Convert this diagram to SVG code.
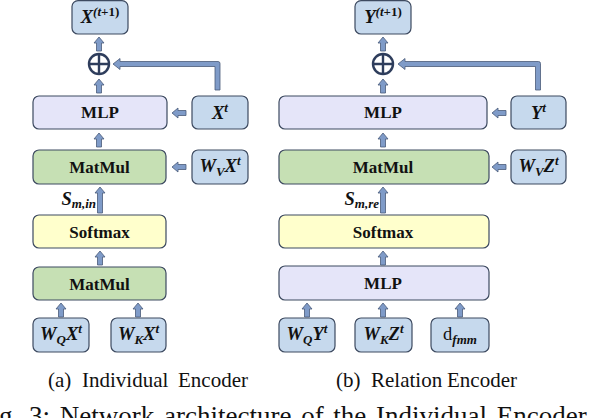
<svg xmlns="http://www.w3.org/2000/svg" width="598" height="418" viewBox="0 0 598 418">
<style>
.box{stroke:#3d4a60;stroke-width:1.2}
.blue{fill:#c6d9ed}
.lav{fill:#e5e5f9}
.grn{fill:#c6e0b4}
.yel{fill:#ffffcc}
.arr{fill:#7f9bc8;stroke:#4a5a78;stroke-width:0.8;stroke-linejoin:round}
.lbl{font-family:"Liberation Serif","Times New Roman",serif;font-weight:bold;font-size:17px;fill:#111}
.m{font-family:"Liberation Serif","Times New Roman",serif;font-weight:bold;font-style:italic;font-size:18.5px;fill:#111}
.s{font-size:13px}
.cap{font-family:"Liberation Serif","Times New Roman",serif;font-size:21px;fill:#111}
.big{font-size:27px}
.plus{fill:none;stroke:#2e3d5c;stroke-width:2.4}
</style>
<defs>
<path id="up" d="M0,0 L5,6 L2.5,6 L2.5,14 L-2.5,14 L-2.5,6 L-5,6 Z"/>
<path id="upL" d="M0,0 L5,6 L2.5,6 L2.5,26 L-2.5,26 L-2.5,6 L-5,6 Z"/>
<path id="left" d="M0,0 L6,-5 L6,-2.5 L14,-2.5 L14,2.5 L6,2.5 L6,5 Z"/>
</defs>

<g id="connectors">
<use href="#up" class="arr" x="99" y="37"/>
<use href="#up" class="arr" x="99" y="79"/>
<use href="#up" class="arr" x="99" y="133"/>
<use href="#upL" class="arr" x="100" y="187"/>
<use href="#up" class="arr" x="100" y="251"/>
<use href="#up" class="arr" x="61" y="303"/>
<use href="#up" class="arr" x="138" y="303"/>
<use href="#left" class="arr" x="172" y="113"/>
<use href="#left" class="arr" x="172" y="167"/>
<path class="arr" d="M215,90 L215,66.5 L120,66.5 L120,69.5 L113,64 L120,58.5 L120,61.5 L218,61.5 Q220,61.5 220,63.5 L220,90 Z"/>

<use href="#up" class="arr" x="383" y="37"/>
<use href="#up" class="arr" x="383" y="79"/>
<use href="#up" class="arr" x="383" y="133"/>
<use href="#upL" class="arr" x="383" y="187"/>
<use href="#up" class="arr" x="383" y="251"/>
<use href="#up" class="arr" x="307" y="303"/>
<use href="#up" class="arr" x="383" y="303"/>
<use href="#up" class="arr" x="460" y="303"/>
<use href="#left" class="arr" x="492" y="113"/>
<use href="#left" class="arr" x="492" y="167"/>
<path class="arr" d="M535.5,90 L535.5,66.5 L405,66.5 L405,69.5 L398,64 L405,58.5 L405,61.5 L538.5,61.5 Q540.5,61.5 540.5,63.5 L540.5,90 Z"/>
</g>

<g id="a-out">
<rect class="box blue" x="72" y="0.6" width="56" height="33.4" rx="6"/>
<text class="m" x="100" y="23" text-anchor="middle">X<tspan class="s" dy="-7">(<tspan font-style="italic">t</tspan><tspan font-style="normal">+1)</tspan></tspan></text>
</g>
<g id="a-plus">
<circle class="plus" cx="99" cy="64" r="10"/>
<path class="plus" d="M89,64 H109 M99,54 V74"/>
</g>
<g id="a-mlp">
<rect class="box lav" x="33" y="96" width="134" height="33" rx="6"/>
<text class="lbl" x="100" y="118" text-anchor="middle">MLP</text>
</g>
<g id="a-xt">
<rect class="box blue" x="192" y="96" width="56" height="33" rx="6"/>
<text class="m" x="220" y="118.5" text-anchor="middle">X<tspan class="s" dy="-7">t</tspan></text>
</g>
<g id="a-matmul1">
<rect class="box grn" x="33" y="150" width="133" height="34" rx="6"/>
<text class="lbl" x="99.5" y="172.5" text-anchor="middle">MatMul</text>
</g>
<g id="a-wvxt">
<rect class="box blue" x="192" y="150" width="56" height="34" rx="6"/>
<text class="m" x="220" y="172" text-anchor="middle">W<tspan class="s" dy="4">V</tspan><tspan dy="-4">X</tspan><tspan class="s" dy="-7">t</tspan></text>
</g>
<g id="a-sm">
<text class="m" x="96" y="205" text-anchor="end">S<tspan class="s" dy="3">m,in</tspan></text>
</g>
<g id="a-softmax">
<rect class="box yel" x="33" y="215" width="133" height="33" rx="6"/>
<text class="lbl" x="99.5" y="237.5" text-anchor="middle">Softmax</text>
</g>
<g id="a-matmul2">
<rect class="box grn" x="33" y="267" width="133" height="33" rx="6"/>
<text class="lbl" x="99.5" y="289.5" text-anchor="middle">MatMul</text>
</g>
<g id="a-wqxt">
<rect class="box blue" x="33" y="318" width="56" height="34" rx="6"/>
<text class="m" x="61" y="340" text-anchor="middle">W<tspan class="s" dy="4">Q</tspan><tspan dy="-4">X</tspan><tspan class="s" dy="-7">t</tspan></text>
</g>
<g id="a-wkxt">
<rect class="box blue" x="111" y="318" width="55" height="34" rx="6"/>
<text class="m" x="138.5" y="340" text-anchor="middle">W<tspan class="s" dy="4">K</tspan><tspan dy="-4">X</tspan><tspan class="s" dy="-7">t</tspan></text>
</g>

<g id="b-out">
<rect class="box blue" x="355" y="0.6" width="56" height="33.4" rx="6"/>
<text class="m" x="383" y="23" text-anchor="middle">Y<tspan class="s" dy="-7">(<tspan font-style="italic">t</tspan><tspan font-style="normal">+1)</tspan></tspan></text>
</g>
<g id="b-plus">
<circle class="plus" cx="383" cy="64" r="10"/>
<path class="plus" d="M373,64 H393 M383,54 V74"/>
</g>
<g id="b-mlp">
<rect class="box lav" x="279" y="96" width="208" height="33" rx="6"/>
<text class="lbl" x="383" y="118" text-anchor="middle">MLP</text>
</g>
<g id="b-yt">
<rect class="box blue" x="511" y="96" width="55" height="33" rx="6"/>
<text class="m" x="538.5" y="118.5" text-anchor="middle">Y<tspan class="s" dy="-7">t</tspan></text>
</g>
<g id="b-matmul">
<rect class="box grn" x="279" y="150" width="210" height="34" rx="6"/>
<text class="lbl" x="383" y="172.5" text-anchor="middle">MatMul</text>
</g>
<g id="b-wvzt">
<rect class="box blue" x="511" y="150" width="55" height="34" rx="6"/>
<text class="m" x="538.5" y="172" text-anchor="middle">W<tspan class="s" dy="4">V</tspan><tspan dy="-4">Z</tspan><tspan class="s" dy="-7">t</tspan></text>
</g>
<g id="b-sm">
<text class="m" x="379" y="205" text-anchor="end">S<tspan class="s" dy="3">m,re</tspan></text>
</g>
<g id="b-softmax">
<rect class="box yel" x="279" y="215" width="210" height="33" rx="6"/>
<text class="lbl" x="383" y="237.5" text-anchor="middle">Softmax</text>
</g>
<g id="b-mlp2">
<rect class="box lav" x="279" y="266" width="210" height="34" rx="6"/>
<text class="lbl" x="383" y="289" text-anchor="middle">MLP</text>
</g>
<g id="b-wqyt">
<rect class="box blue" x="279" y="318" width="56" height="34" rx="6"/>
<text class="m" x="307" y="340" text-anchor="middle">W<tspan class="s" dy="4">Q</tspan><tspan dy="-4">Y</tspan><tspan class="s" dy="-7">t</tspan></text>
</g>
<g id="b-wkzt">
<rect class="box blue" x="355" y="318" width="57" height="34" rx="6"/>
<text class="m" x="383.5" y="340" text-anchor="middle">W<tspan class="s" dy="4">K</tspan><tspan dy="-4">Z</tspan><tspan class="s" dy="-7">t</tspan></text>
</g>
<g id="b-dfmm">
<rect class="box blue" x="431" y="318" width="58" height="34" rx="6"/>
<text class="m" x="460" y="340" text-anchor="middle"><tspan font-weight="normal" font-style="normal">d</tspan><tspan class="s" dy="4">fmm</tspan></text>
</g>

<g id="captions">
<text class="cap" y="387"><tspan x="48">(a)</tspan><tspan x="82">Individual</tspan><tspan x="178">Encoder</tspan></text>
<text class="cap" y="387"><tspan x="336">(b)</tspan><tspan x="371">Relation</tspan><tspan x="447">Encoder</tspan></text>
<text class="cap big" x="-1" y="425" word-spacing="3">g. 3: Network architecture of the Individual Encoder</text>
</g>
</svg>
